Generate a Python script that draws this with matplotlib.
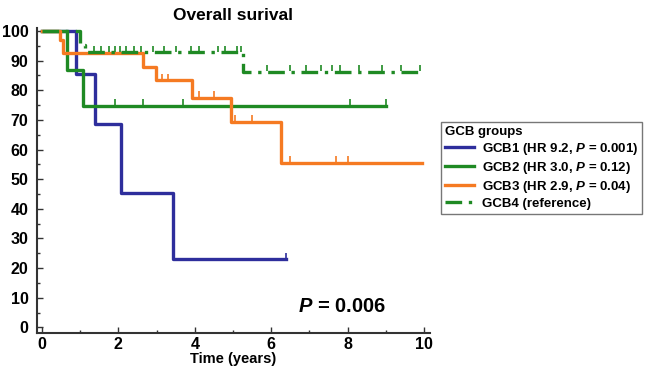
import matplotlib
matplotlib.use("Agg")
import matplotlib.pyplot as plt
from matplotlib.ticker import MultipleLocator

plt.rcParams['font.family'] = ['Liberation Sans', 'DejaVu Sans']
plt.rcParams['font.weight'] = 'bold'
plt.rcParams['mathtext.fontset'] = 'custom'
plt.rcParams['mathtext.it'] = 'Liberation Sans:italic:bold'
plt.rcParams['mathtext.rm'] = 'Liberation Sans:bold'

# Kaplan-Meier step data (time in years, survival %)
gcb1_t = [0, 0.89, 1.39, 2.07, 3.42, 6.39]
gcb1_s = [100, 85.5, 68.5, 45.5, 23, 23]
gcb1_cens_t = [6.39]
gcb1_cens_s = [23]

gcb2_t = [0, 0.65, 1.06, 9.02]
gcb2_s = [100, 86.8, 74.7, 74.7]
gcb2_cens_t = [1.91, 2.65, 3.68, 8.06, 9.02]
gcb2_cens_s = [74.7, 74.7, 74.7, 74.7, 74.7]

gcb3_t = [0, 0.47, 0.56, 2.64, 2.98, 3.92, 4.94, 6.25, 9.94]
gcb3_s = [100, 97, 92.5, 88, 83.4, 77.5, 69.4, 55.6, 55.6]
gcb3_cens_t = [3.0, 3.15, 3.3, 4.1, 4.5, 5.05, 5.5, 6.5, 7.7, 8.0]
gcb3_cens_s = [83.4, 83.4, 83.4, 77.5, 77.5, 69.4, 69.4, 55.6, 55.6, 55.6]

gcb4_t = [0, 1.0, 1.13, 5.27, 9.94]
gcb4_s = [100, 95.3, 92.8, 86.3, 86.3]
gcb4_cens_t = [1.35, 1.55, 1.75, 1.9, 2.05, 2.2, 2.4, 2.6, 2.9, 3.2,
               3.5, 3.9, 4.1, 4.6, 4.8, 5.1, 5.2,
               5.9, 6.5, 6.9, 7.3, 7.6, 7.8, 8.3, 8.9, 9.4, 9.9]
gcb4_cens_s = [92.8] * 17 + [86.3] * 10

labels = ['GCB1 (HR 9.2, $P$ = 0.001)', 'GCB2 (HR 3.0, $P$ = 0.12)',
          'GCB3 (HR 2.9, $P$ = 0.04)', 'GCB4 (reference)']
colors = ['#2e2e9c', '#1f8a24', '#f57a22', '#1f8a24']

fig = plt.figure(figsize=(6.57, 3.66), dpi=100)
ax = fig.add_axes([0.0559, 0.0893, 0.5986, 0.8342])

series = [
    (gcb1_t, gcb1_s, gcb1_cens_t, gcb1_cens_s, '-'),
    (gcb2_t, gcb2_s, gcb2_cens_t, gcb2_cens_s, '-'),
    (gcb3_t, gcb3_s, gcb3_cens_t, gcb3_cens_s, '-'),
    (gcb4_t, gcb4_s, gcb4_cens_t, gcb4_cens_s, (0, (5, 2, 1, 2))),
]
for (t, s, ct, cs, ls), lab, c in zip(series, labels, colors):
    ax.step(t, s, where='post', color=c, lw=2.4, ls=ls, label=lab)
    ax.plot(ct, [v + 1.2 for v in cs], ls='none', marker='|', ms=4,
            mew=1.2, color=c)

ax.set_xlim(-0.14, 10.16)
ax.set_ylim(-2, 101)
ax.xaxis.set_major_locator(MultipleLocator(2))
ax.xaxis.set_minor_locator(MultipleLocator(1))
ax.yaxis.set_major_locator(MultipleLocator(10))
ax.yaxis.set_minor_locator(MultipleLocator(5))
ax.tick_params(which='both', direction='in', color='#333333', labelsize=11.5, width=1)
ax.tick_params(which='major', length=4)
ax.tick_params(which='minor', length=2)
ax.tick_params(axis='y', pad=6)
ax.tick_params(axis='x', pad=3)
for sp in ['top', 'right']:
    ax.spines[sp].set_visible(False)
for sp in ['left', 'bottom']:
    ax.spines[sp].set_color('#333333')
    ax.spines[sp].set_linewidth(1.5)

ax.set_title('Overall surival', fontsize=12.5, fontweight='bold', pad=6)
ax.set_xlabel('Time (years)', fontsize=10.5, fontweight='bold', labelpad=0)
ax.text(6.7, 6.9, '$P$ = 0.006', fontsize=14.5, fontweight='bold', va='center')

leg = ax.legend(loc='upper left', bbox_to_anchor=(441 / 657, 1 - 122 / 366),
                bbox_transform=fig.transFigure, title='GCB groups',
                fontsize=9.5, title_fontsize=9.5, frameon=True, fancybox=False,
                handlelength=2.2, handletextpad=0.6, labelspacing=0.22,
                borderpad=0.3, borderaxespad=0, alignment='left')
leg.get_frame().set_edgecolor('#555555')
leg.get_frame().set_linewidth(1.0)
leg.get_title().set_fontweight('bold')

fig.savefig('out.png', dpi=100)
